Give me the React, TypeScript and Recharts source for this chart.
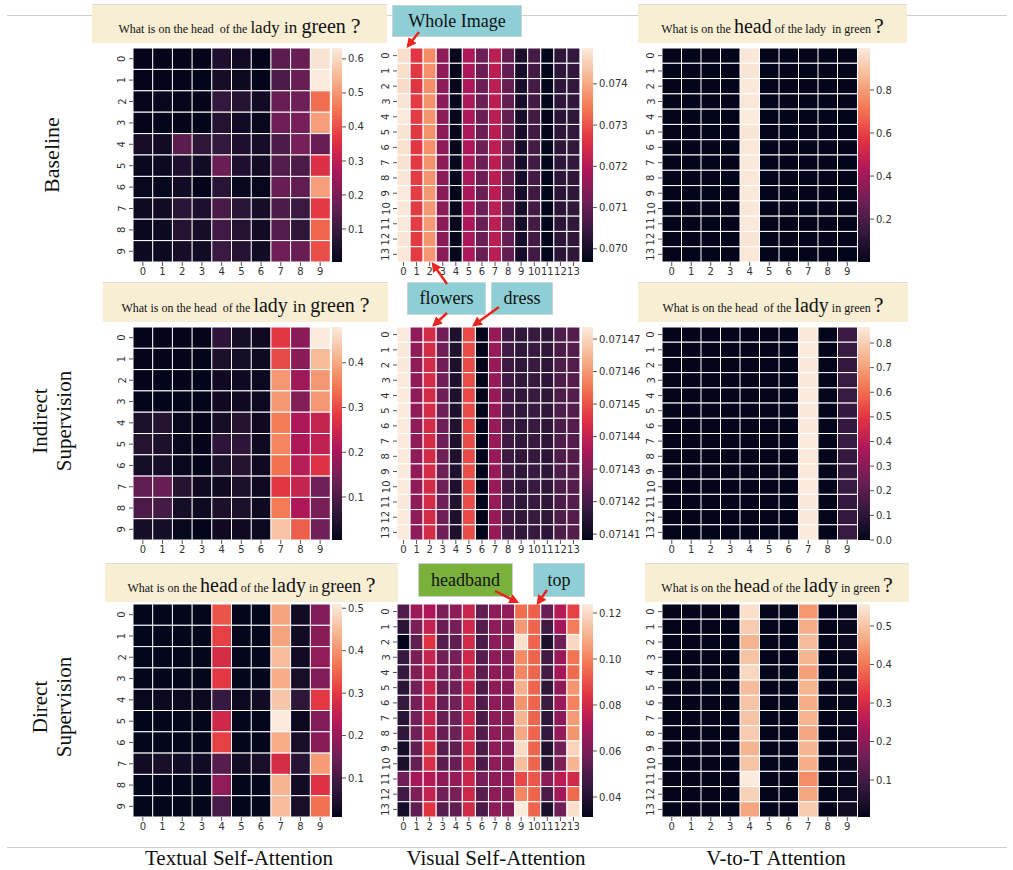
import React from 'react';
import { BarChart, Bar, XAxis, YAxis, Cell } from 'recharts';

// ---------- tick labels ----------
const TEXT_TOKENS = ['0', '1', '2', '3', '4', '5', '6', '7', '8', '9'];
const IMAGE_REGIONS = ['0', '1', '2', '3', '4', '5', '6', '7', '8', '9', '10', '11', '12', '13'];

// ---------- Baseline ----------
const textBaseline = [
  [0.004, 0.004, 0.004, 0.004, 0.05, 0.03, 0.005, 0.15, 0.17, 0.62],
  [0.004, 0.005, 0.004, 0.003, 0.04, 0.02, 0.005, 0.13, 0.17, 0.632],
  [0.006, 0.01, 0.006, 0.004, 0.09, 0.06, 0.03, 0.17, 0.18, 0.44],
  [0.005, 0.006, 0.005, 0.003, 0.06, 0.03, 0.012, 0.18, 0.19, 0.51],
  [0.04, 0.03, 0.15, 0.08, 0.09, 0.05, 0.04, 0.13, 0.19, 0.17],
  [0.015, 0.02, 0.05, 0.03, 0.17, 0.05, 0.03, 0.14, 0.13, 0.35],
  [0.01, 0.01, 0.03, 0.005, 0.07, 0.015, 0.008, 0.17, 0.16, 0.51],
  [0.025, 0.03, 0.07, 0.05, 0.12, 0.07, 0.04, 0.13, 0.1, 0.37],
  [0.015, 0.02, 0.06, 0.04, 0.11, 0.06, 0.03, 0.14, 0.08, 0.43],
  [0.02, 0.02, 0.04, 0.03, 0.1, 0.06, 0.03, 0.18, 0.17, 0.4],
];

const visualBaseline = [
  [0.0747, 0.07268, 0.07365, 0.07152, 0.06976, 0.07192, 0.07112, 0.07212, 0.07102, 0.07002, 0.07062, 0.0697, 0.07032, 0.07038],
  [0.07472, 0.0727, 0.0737, 0.0715, 0.06973, 0.0719, 0.0711, 0.0721, 0.071, 0.07, 0.0706, 0.06969, 0.0703, 0.07036],
  [0.07466, 0.07266, 0.07368, 0.07151, 0.06975, 0.07191, 0.07111, 0.07211, 0.07101, 0.07001, 0.07061, 0.0697, 0.07031, 0.07037],
  [0.07478, 0.07272, 0.07373, 0.07149, 0.06974, 0.07189, 0.07109, 0.07209, 0.07099, 0.06999, 0.07059, 0.06968, 0.07029, 0.07035],
  [0.07485, 0.07274, 0.07376, 0.07148, 0.06972, 0.07188, 0.07108, 0.07208, 0.07098, 0.06998, 0.07058, 0.06968, 0.07028, 0.07034],
  [0.07476, 0.0727, 0.07372, 0.0715, 0.06974, 0.0719, 0.0711, 0.0721, 0.071, 0.07, 0.0706, 0.06969, 0.0703, 0.07036],
  [0.07473, 0.07269, 0.07371, 0.07151, 0.06975, 0.07191, 0.07111, 0.07211, 0.07101, 0.07001, 0.07061, 0.0697, 0.07031, 0.07037],
  [0.07474, 0.0727, 0.07372, 0.0715, 0.06974, 0.0719, 0.0711, 0.0721, 0.071, 0.07, 0.0706, 0.06969, 0.0703, 0.07036],
  [0.0748, 0.07272, 0.07375, 0.07149, 0.06973, 0.07189, 0.07109, 0.07209, 0.07099, 0.06999, 0.07059, 0.06968, 0.07029, 0.07035],
  [0.07487, 0.07275, 0.0738, 0.07147, 0.0697, 0.07187, 0.07107, 0.07207, 0.07097, 0.06997, 0.07057, 0.06968, 0.07027, 0.07033],
  [0.07482, 0.07273, 0.07378, 0.07148, 0.06972, 0.07188, 0.07108, 0.07208, 0.07098, 0.06998, 0.07058, 0.06968, 0.07028, 0.07034],
  [0.07484, 0.07274, 0.07379, 0.07148, 0.06971, 0.07188, 0.07108, 0.07208, 0.07098, 0.06998, 0.07058, 0.06968, 0.07028, 0.07034],
  [0.07479, 0.07271, 0.07376, 0.07149, 0.06973, 0.07189, 0.07109, 0.07209, 0.07099, 0.06999, 0.07059, 0.06968, 0.07029, 0.07035],
  [0.07481, 0.07272, 0.07378, 0.07148, 0.06972, 0.07188, 0.07108, 0.07208, 0.07098, 0.06998, 0.07058, 0.06968, 0.07028, 0.07034],
];

const v2tBaseline = [
  [0.002, 0.001, 0.002, 0.001, 0.985, 0.002, 0.001, 0.002, 0.001, 0.002],
  [0.001, 0.002, 0.001, 0.002, 0.98, 0.001, 0.002, 0.001, 0.002, 0.001],
  [0.002, 0.001, 0.002, 0.001, 0.99, 0.002, 0.001, 0.002, 0.001, 0.002],
  [0.001, 0.001, 0.002, 0.002, 0.985, 0.001, 0.002, 0.001, 0.001, 0.002],
  [0.0005, 0.001, 0.001, 0.001, 0.995, 0.001, 0.001, 0.001, 0.001, 0.001],
  [0.002, 0.002, 0.001, 0.002, 0.98, 0.002, 0.001, 0.002, 0.002, 0.001],
  [0.001, 0.002, 0.002, 0.001, 0.985, 0.001, 0.002, 0.001, 0.002, 0.002],
  [0.002, 0.001, 0.001, 0.002, 0.99, 0.002, 0.001, 0.002, 0.001, 0.001],
  [0.001, 0.002, 0.002, 0.001, 0.985, 0.001, 0.002, 0.001, 0.002, 0.002],
  [0.002, 0.001, 0.001, 0.002, 0.99, 0.002, 0.001, 0.002, 0.001, 0.001],
  [0.001, 0.002, 0.002, 0.001, 0.985, 0.001, 0.002, 0.001, 0.002, 0.002],
  [0.002, 0.001, 0.001, 0.002, 0.99, 0.002, 0.001, 0.002, 0.001, 0.001],
  [0.001, 0.002, 0.002, 0.001, 0.98, 0.001, 0.002, 0.001, 0.002, 0.002],
  [0.002, 0.001, 0.001, 0.002, 0.985, 0.002, 0.001, 0.002, 0.001, 0.001],
];

// ---------- Indirect supervision ----------
const textIndirect = [
  [0.005, 0.005, 0.005, 0.005, 0.06, 0.03, 0.02, 0.28, 0.17, 0.48],
  [0.005, 0.005, 0.005, 0.005, 0.04, 0.03, 0.02, 0.3, 0.17, 0.42],
  [0.005, 0.004, 0.005, 0.004, 0.02, 0.02, 0.015, 0.38, 0.19, 0.38],
  [0.004, 0.004, 0.004, 0.004, 0.02, 0.02, 0.015, 0.38, 0.16, 0.38],
  [0.04, 0.05, 0.01, 0.005, 0.03, 0.05, 0.02, 0.35, 0.21, 0.24],
  [0.05, 0.04, 0.01, 0.005, 0.06, 0.06, 0.02, 0.36, 0.21, 0.23],
  [0.03, 0.03, 0.01, 0.005, 0.04, 0.05, 0.02, 0.34, 0.22, 0.27],
  [0.12, 0.13, 0.05, 0.02, 0.02, 0.04, 0.02, 0.28, 0.24, 0.14],
  [0.1, 0.09, 0.03, 0.02, 0.04, 0.04, 0.02, 0.35, 0.21, 0.15],
  [0.03, 0.03, 0.01, 0.005, 0.02, 0.02, 0.015, 0.43, 0.32, 0.14],
];

const visualIndirect = [
  [0.0714735, 0.0714318, 0.071443, 0.0714265, 0.0714135, 0.071449, 0.0714083, 0.071433, 0.071419, 0.0714165, 0.071418, 0.071416, 0.0714215, 0.0714225],
  [0.0714733, 0.0714317, 0.0714431, 0.0714264, 0.0714136, 0.0714491, 0.0714082, 0.0714331, 0.0714191, 0.0714164, 0.0714181, 0.0714161, 0.0714214, 0.0714226],
  [0.0714734, 0.0714318, 0.071443, 0.0714265, 0.0714135, 0.071449, 0.0714083, 0.071433, 0.071419, 0.0714165, 0.071418, 0.071416, 0.0714215, 0.0714225],
  [0.0714736, 0.0714319, 0.0714432, 0.0714266, 0.0714134, 0.0714492, 0.0714082, 0.0714332, 0.0714189, 0.0714166, 0.0714179, 0.0714159, 0.0714216, 0.0714224],
  [0.0714735, 0.0714318, 0.071443, 0.0714265, 0.0714135, 0.071449, 0.0714083, 0.071433, 0.071419, 0.0714165, 0.071418, 0.071416, 0.0714215, 0.0714225],
  [0.0714737, 0.0714318, 0.0714431, 0.0714265, 0.0714135, 0.0714491, 0.0714082, 0.0714331, 0.071419, 0.0714165, 0.071418, 0.071416, 0.0714215, 0.0714225],
  [0.0714735, 0.0714317, 0.071443, 0.0714264, 0.0714136, 0.071449, 0.0714083, 0.071433, 0.0714191, 0.0714164, 0.0714181, 0.0714161, 0.0714214, 0.0714226],
  [0.0714736, 0.0714318, 0.0714431, 0.0714265, 0.0714135, 0.0714491, 0.0714082, 0.0714331, 0.071419, 0.0714165, 0.071418, 0.071416, 0.0714215, 0.0714225],
  [0.0714735, 0.0714319, 0.071443, 0.0714266, 0.0714134, 0.071449, 0.0714083, 0.071433, 0.0714189, 0.0714166, 0.0714179, 0.0714159, 0.0714216, 0.0714224],
  [0.0714736, 0.0714318, 0.0714432, 0.0714265, 0.0714135, 0.0714492, 0.0714082, 0.0714332, 0.071419, 0.0714165, 0.071418, 0.071416, 0.0714215, 0.0714225],
  [0.0714735, 0.0714318, 0.071443, 0.0714265, 0.0714135, 0.071449, 0.0714083, 0.071433, 0.071419, 0.0714165, 0.071418, 0.071416, 0.0714215, 0.0714225],
  [0.0714734, 0.0714317, 0.0714431, 0.0714264, 0.0714136, 0.0714491, 0.0714082, 0.0714331, 0.0714191, 0.0714164, 0.0714181, 0.0714161, 0.0714214, 0.0714226],
  [0.0714735, 0.0714318, 0.071443, 0.0714265, 0.0714135, 0.071449, 0.0714083, 0.071433, 0.071419, 0.0714165, 0.071418, 0.071416, 0.0714215, 0.0714225],
  [0.0714736, 0.0714319, 0.0714431, 0.0714266, 0.0714134, 0.0714491, 0.0714082, 0.0714331, 0.0714189, 0.0714166, 0.0714179, 0.0714159, 0.0714216, 0.0714224],
];

const v2tIndirect = [
  [0.003, 0.002, 0.003, 0.002, 0.003, 0.002, 0.003, 0.86, 0.004, 0.14],
  [0.002, 0.003, 0.002, 0.003, 0.002, 0.003, 0.002, 0.865, 0.003, 0.13],
  [0.003, 0.002, 0.003, 0.002, 0.003, 0.002, 0.003, 0.86, 0.004, 0.12],
  [0.002, 0.003, 0.002, 0.003, 0.002, 0.003, 0.002, 0.86, 0.003, 0.13],
  [0.003, 0.002, 0.003, 0.002, 0.003, 0.002, 0.003, 0.865, 0.004, 0.13],
  [0.0, 0.003, 0.002, 0.003, 0.002, 0.003, 0.002, 0.86, 0.003, 0.12],
  [0.003, 0.002, 0.003, 0.002, 0.003, 0.002, 0.003, 0.86, 0.004, 0.12],
  [0.002, 0.003, 0.002, 0.003, 0.002, 0.003, 0.002, 0.865, 0.003, 0.13],
  [0.003, 0.002, 0.003, 0.002, 0.003, 0.002, 0.003, 0.86, 0.004, 0.12],
  [0.002, 0.003, 0.002, 0.003, 0.002, 0.003, 0.002, 0.86, 0.003, 0.12],
  [0.003, 0.002, 0.003, 0.002, 0.003, 0.002, 0.003, 0.865, 0.004, 0.13],
  [0.002, 0.003, 0.002, 0.003, 0.002, 0.003, 0.002, 0.86, 0.003, 0.12],
  [0.003, 0.002, 0.003, 0.002, 0.003, 0.002, 0.003, 0.86, 0.004, 0.12],
  [0.002, 0.003, 0.002, 0.003, 0.002, 0.003, 0.002, 0.865, 0.003, 0.13],
];

// ---------- Direct supervision ----------
const textDirect = [
  [0.01, 0.01, 0.01, 0.01, 0.33, 0.01, 0.01, 0.42, 0.03, 0.17],
  [0.01, 0.01, 0.01, 0.01, 0.31, 0.01, 0.01, 0.42, 0.03, 0.18],
  [0.01, 0.01, 0.01, 0.01, 0.28, 0.01, 0.01, 0.45, 0.03, 0.19],
  [0.01, 0.01, 0.01, 0.01, 0.3, 0.01, 0.01, 0.43, 0.04, 0.17],
  [0.015, 0.02, 0.02, 0.02, 0.08, 0.02, 0.03, 0.46, 0.07, 0.3],
  [0.008, 0.01, 0.01, 0.01, 0.27, 0.01, 0.01, 0.51, 0.02, 0.17],
  [0.01, 0.01, 0.01, 0.01, 0.31, 0.01, 0.01, 0.43, 0.04, 0.18],
  [0.03, 0.04, 0.03, 0.03, 0.12, 0.03, 0.04, 0.28, 0.06, 0.41],
  [0.01, 0.01, 0.01, 0.01, 0.19, 0.01, 0.01, 0.44, 0.03, 0.29],
  [0.01, 0.01, 0.01, 0.01, 0.1, 0.01, 0.01, 0.45, 0.04, 0.36],
];

const visualDirect = [
  [0.051, 0.067, 0.071, 0.06, 0.064, 0.078, 0.054, 0.064, 0.065, 0.096, 0.093, 0.056, 0.073, 0.087],
  [0.042, 0.06, 0.076, 0.056, 0.059, 0.079, 0.052, 0.064, 0.063, 0.105, 0.094, 0.047, 0.069, 0.099],
  [0.0313, 0.054, 0.084, 0.052, 0.054, 0.08, 0.049, 0.064, 0.063, 0.121, 0.094, 0.038, 0.057, 0.119],
  [0.045, 0.06, 0.077, 0.057, 0.059, 0.079, 0.052, 0.064, 0.062, 0.102, 0.094, 0.047, 0.067, 0.097],
  [0.045, 0.061, 0.075, 0.058, 0.06, 0.079, 0.053, 0.064, 0.063, 0.101, 0.094, 0.048, 0.069, 0.095],
  [0.042, 0.058, 0.078, 0.055, 0.057, 0.079, 0.05, 0.064, 0.063, 0.11, 0.094, 0.043, 0.064, 0.104],
  [0.045, 0.059, 0.077, 0.056, 0.058, 0.079, 0.051, 0.064, 0.063, 0.104, 0.094, 0.046, 0.067, 0.1],
  [0.041, 0.058, 0.078, 0.055, 0.057, 0.079, 0.05, 0.064, 0.063, 0.111, 0.094, 0.043, 0.064, 0.105],
  [0.043, 0.058, 0.078, 0.056, 0.057, 0.079, 0.051, 0.064, 0.063, 0.108, 0.094, 0.044, 0.066, 0.104],
  [0.036, 0.054, 0.083, 0.052, 0.054, 0.08, 0.049, 0.064, 0.062, 0.12, 0.094, 0.039, 0.058, 0.118],
  [0.038, 0.055, 0.082, 0.053, 0.056, 0.08, 0.05, 0.064, 0.063, 0.113, 0.094, 0.041, 0.061, 0.111],
  [0.057, 0.069, 0.072, 0.064, 0.066, 0.078, 0.059, 0.064, 0.065, 0.089, 0.091, 0.064, 0.074, 0.08],
  [0.047, 0.061, 0.076, 0.058, 0.06, 0.079, 0.053, 0.064, 0.063, 0.101, 0.094, 0.05, 0.069, 0.095],
  [0.036, 0.054, 0.084, 0.052, 0.054, 0.08, 0.049, 0.064, 0.062, 0.1239, 0.094, 0.038, 0.057, 0.121],
];

const v2tDirect = [
  [0.005, 0.004, 0.005, 0.005, 0.54, 0.005, 0.006, 0.44, 0.006, 0.012],
  [0.004, 0.005, 0.005, 0.004, 0.51, 0.006, 0.005, 0.47, 0.005, 0.014],
  [0.005, 0.005, 0.004, 0.005, 0.48, 0.005, 0.006, 0.49, 0.006, 0.016],
  [0.005, 0.004, 0.005, 0.005, 0.5, 0.005, 0.005, 0.48, 0.005, 0.013],
  [0.004, 0.005, 0.005, 0.004, 0.53, 0.006, 0.006, 0.45, 0.006, 0.012],
  [0.005, 0.005, 0.004, 0.005, 0.49, 0.005, 0.005, 0.48, 0.005, 0.015],
  [0.005, 0.004, 0.005, 0.005, 0.5, 0.005, 0.006, 0.47, 0.006, 0.014],
  [0.004, 0.005, 0.005, 0.004, 0.5, 0.006, 0.005, 0.48, 0.005, 0.015],
  [0.005, 0.005, 0.004, 0.005, 0.51, 0.005, 0.006, 0.46, 0.006, 0.013],
  [0.005, 0.004, 0.005, 0.005, 0.48, 0.005, 0.005, 0.48, 0.005, 0.018],
  [0.004, 0.005, 0.005, 0.004, 0.5, 0.006, 0.006, 0.47, 0.006, 0.014],
  [0.005, 0.005, 0.004, 0.005, 0.557, 0.005, 0.005, 0.43, 0.005, 0.013],
  [0.005, 0.004, 0.005, 0.005, 0.52, 0.005, 0.006, 0.46, 0.006, 0.016],
  [0.004, 0.005, 0.005, 0.004, 0.46, 0.006, 0.005, 0.51, 0.005, 0.025],
];

// ---------- colorbar ticks ----------
const CB_TEXT_BASE = [0.1, 0.2, 0.3, 0.4, 0.5, 0.6];
const CB_VIS_BASE = [0.07, 0.071, 0.072, 0.073, 0.074];
const CB_V2T_BASE = [0.2, 0.4, 0.6, 0.8];
const CB_TEXT_IND = [0.1, 0.2, 0.3, 0.4];
const CB_VIS_IND = [0.07141, 0.07142, 0.07143, 0.07144, 0.07145, 0.07146, 0.07147];
const CB_V2T_IND = [0.0, 0.1, 0.2, 0.3, 0.4, 0.5, 0.6, 0.7, 0.8];
const CB_TEXT_DIR = [0.1, 0.2, 0.3, 0.4, 0.5];
const CB_VIS_DIR = [0.04, 0.06, 0.08, 0.1, 0.12];
const CB_V2T_DIR = [0.1, 0.2, 0.3, 0.4, 0.5];

// ---------- labels ----------
const COLUMN_TITLES = ['Textual Self-Attention', 'Visual Self-Attention', 'V-to-T Attention'];
const ROW_TITLES = [['Baseline'], ['Indirect', 'Supervision'], ['Direct', 'Supervision']];

type Seg = [string, number];
const Q_T1: Seg[] = [['What is on the head  of the ', 12], ['lady ', 17], ['in ', 17], ['green ', 20], ['?', 22]];
const Q_A1: Seg[] = [['What is on the ', 12], ['head', 20], [' of the lady  in green ', 12], ['?', 22]];
const Q_T2: Seg[] = [['What is on the head  of the ', 12], ['lady ', 20], ['in ', 17], ['green ', 20], ['?', 22]];
const Q_A2: Seg[] = [['What is on the head  of the ', 12], ['lady', 20], [' in green ', 12], ['?', 22]];
const Q_T3: Seg[] = [['What is on the ', 12], ['head', 20], [' of the ', 12], ['lady', 20], [' in ', 12], ['green ', 18], ['?', 22]];
const Q_A3: Seg[] = [['What is on the ', 12], ['head', 19], [' of the ', 12], ['lady', 20], [' in green ', 12], ['?', 22]];

// ---------- colormap (seaborn "rocket") ----------
const ROCKET: Array<[number, string]> = [
  [0, '#03051a'], [0.143, '#35193e'], [0.286, '#701f57'], [0.429, '#ad1759'],
  [0.571, '#e13342'], [0.714, '#f37651'], [0.857, '#f6b48f'], [1, '#faebdd'],
];
const hexRgb = (h: string) => [1, 3, 5].map((i) => parseInt(h.slice(i, i + 2), 16));
function rocket(t: number): string {
  const u = Math.max(0, Math.min(1, t));
  for (let i = 1; i < ROCKET.length; i++) {
    if (u <= ROCKET[i][0]) {
      const [t0, c0] = ROCKET[i - 1];
      const [t1, c1] = ROCKET[i];
      const f = (u - t0) / (t1 - t0);
      const a = hexRgb(c0);
      const b = hexRgb(c1);
      return `rgb(${a.map((v, k) => Math.round(v + (b[k] - v) * f)).join(',')})`;
    }
  }
  return ROCKET[ROCKET.length - 1][1];
}

// ---------- layout ----------
const COLS = [
  { x: 133, w: 197, cbX: 332, cbW: 10 },
  { x: 397, w: 183, cbX: 582, cbW: 11 },
  { x: 662, w: 195, cbX: 858, cbW: 12 },
];
const ROWS = [
  { y: 48, h: 214 },
  { y: 327, h: 213 },
  { y: 604, h: 213 },
];
const YW = 24;
const XH = 22;
const MT = 2;
const MR = 2;
const CB_PAD = 9;
const TICK_FONT = { fontSize: 10, fill: '#333', fontFamily: '"DejaVu Sans", sans-serif' };
const SERIF = '"Liberation Serif", "Times New Roman", serif';

const RotTick = (props: any) => {
  const { x, y, payload, labels } = props;
  const label = labels[Math.floor(payload.value)];
  const cx = x - 5;
  return (
    <text x={cx} y={y} transform={`rotate(-90, ${cx}, ${y})`} textAnchor="middle" dominantBaseline="central" {...TICK_FONT}>
      {label}
    </text>
  );
};

interface HeatProps {
  id: string;
  matrix: number[][];
  xLabels: string[];
  yLabels: string[];
  col: number;
  row: number;
  ticks: number[];
  digits: number;
}

function Heatmap({ id, matrix, xLabels, yLabels, col, row, ticks, digits }: HeatProps) {
  const { x, w, cbX, cbW } = COLS[col];
  const { y, h } = ROWS[row];
  const nRows = matrix.length;
  const flat = matrix.flat();
  const min = Math.min(...flat);
  const max = Math.max(...flat);
  const data = xLabels.map((name) => {
    const o: Record<string, any> = { name };
    yLabels.forEach((_, ri) => {
      o['r' + ri] = 1;
    });
    return o;
  });
  const yTicks = yLabels.map((_, i) => i + 0.5);
  const CBR = 50;
  return (
    <>
      <div style={{ position: 'absolute', left: x - YW, top: y - MT }}>
        <BarChart
          width={YW + w + MR}
          height={MT + h + XH}
          data={data}
          margin={{ top: MT, right: MR, left: 0, bottom: 0 }}
          barCategoryGap={0}
          barGap={0}
        >
          <XAxis dataKey="name" interval={0} axisLine={false} tickSize={4} tickLine={{ stroke: '#555' }} height={XH} tick={TICK_FONT} />
          <YAxis
            type="number"
            domain={[0, nRows]}
            reversed
            ticks={yTicks}
            interval={0}
            width={YW}
            axisLine={false}
            tickSize={4}
            tickLine={{ stroke: '#555' }}
            tick={(p: any) => <RotTick {...p} labels={yLabels} />}
          />
          {matrix.map((r, ri) => (
            <Bar key={ri} dataKey={'r' + ri} stackId="s" isAnimationActive={false} stroke="#ffffff" strokeWidth={1}>
              {r.map((v, ci) => (
                <Cell key={ci} fill={rocket((v - min) / (max - min))} />
              ))}
            </Bar>
          ))}
        </BarChart>
      </div>
      <div style={{ position: 'absolute', left: cbX, top: y - CB_PAD }}>
        <BarChart
          width={cbW + CBR}
          height={h + 2 * CB_PAD}
          data={[{ name: 'cb', range: [min, max] }]}
          margin={{ top: CB_PAD, right: 0, left: 0, bottom: CB_PAD }}
          barCategoryGap={0}
        >
          <defs>
            <linearGradient id={`grad-${id}`} x1="0" y1="1" x2="0" y2="0">
              {ROCKET.map(([t, c]) => (
                <stop key={t} offset={t} stopColor={c} />
              ))}
            </linearGradient>
          </defs>
          <XAxis dataKey="name" hide />
          <YAxis
            orientation="right"
            type="number"
            domain={[min, max]}
            ticks={ticks}
            interval={0}
            width={CBR}
            axisLine={false}
            tickSize={4}
            tickLine={{ stroke: '#555' }}
            tick={TICK_FONT}
            tickFormatter={(v: number) => v.toFixed(digits)}
          />
          <Bar dataKey="range" fill={`url(#grad-${id})`} isAnimationActive={false} />
        </BarChart>
      </div>
    </>
  );
}

const PANELS: HeatProps[] = [
  { id: 't1', matrix: textBaseline, xLabels: TEXT_TOKENS, yLabels: TEXT_TOKENS, col: 0, row: 0, ticks: CB_TEXT_BASE, digits: 1 },
  { id: 'v1', matrix: visualBaseline, xLabels: IMAGE_REGIONS, yLabels: IMAGE_REGIONS, col: 1, row: 0, ticks: CB_VIS_BASE, digits: 3 },
  { id: 'a1', matrix: v2tBaseline, xLabels: TEXT_TOKENS, yLabels: IMAGE_REGIONS, col: 2, row: 0, ticks: CB_V2T_BASE, digits: 1 },
  { id: 't2', matrix: textIndirect, xLabels: TEXT_TOKENS, yLabels: TEXT_TOKENS, col: 0, row: 1, ticks: CB_TEXT_IND, digits: 1 },
  { id: 'v2', matrix: visualIndirect, xLabels: IMAGE_REGIONS, yLabels: IMAGE_REGIONS, col: 1, row: 1, ticks: CB_VIS_IND, digits: 5 },
  { id: 'a2', matrix: v2tIndirect, xLabels: TEXT_TOKENS, yLabels: IMAGE_REGIONS, col: 2, row: 1, ticks: CB_V2T_IND, digits: 1 },
  { id: 't3', matrix: textDirect, xLabels: TEXT_TOKENS, yLabels: TEXT_TOKENS, col: 0, row: 2, ticks: CB_TEXT_DIR, digits: 1 },
  { id: 'v3', matrix: visualDirect, xLabels: IMAGE_REGIONS, yLabels: IMAGE_REGIONS, col: 1, row: 2, ticks: CB_VIS_DIR, digits: 2 },
  { id: 'a3', matrix: v2tDirect, xLabels: TEXT_TOKENS, yLabels: IMAGE_REGIONS, col: 2, row: 2, ticks: CB_V2T_DIR, digits: 1 },
];

const BEIGE = '#f8eed4';
const TEAL = '#8ecfd6';
const GREEN = '#79b13c';

const QUESTION_BOXES: Array<{ segs: Seg[]; box: [number, number, number, number] }> = [
  { segs: Q_T1, box: [92, 4, 387, 43] },
  { segs: Q_A1, box: [638, 4, 907, 43] },
  { segs: Q_T2, box: [103, 282, 388, 322] },
  { segs: Q_A2, box: [638, 282, 908, 322] },
  { segs: Q_T3, box: [105, 563, 398, 602] },
  { segs: Q_A3, box: [645, 563, 909, 602] },
];

const TAG_BOXES: Array<{ text: string; box: [number, number, number, number]; color: string }> = [
  { text: 'Whole Image', box: [392, 5, 522, 37], color: TEAL },
  { text: 'flowers', box: [407, 282, 486, 315], color: TEAL },
  { text: 'dress', box: [491, 282, 553, 315], color: TEAL },
  { text: 'headband', box: [418, 563, 513, 597], color: GREEN },
  { text: 'top', box: [533, 563, 585, 597], color: TEAL },
];

const ARROWS: Array<[number, number, number, number]> = [
  [419, 32, 408, 46],
  [447, 284, 433, 264],
  [447, 313, 434, 325],
  [499, 307, 474, 325],
  [495, 591, 517, 602],
  [547, 590, 538, 603],
];

export default function App() {
  return (
    <div style={{ position: 'absolute', left: 0, top: 0, width: 1013, height: 870, background: '#fff', overflow: 'hidden', fontFamily: SERIF }}>
      <div style={{ position: 'absolute', left: 7, top: 15, width: 1000, height: 1, background: '#cfcfcf' }} />
      <div style={{ position: 'absolute', left: 7, top: 847, width: 1000, height: 1, background: '#cfcfcf' }} />

      {QUESTION_BOXES.map(({ segs, box }, i) => (
        <div
          key={i}
          style={{
            position: 'absolute', left: box[0], top: box[1], width: box[2] - box[0], height: box[3] - box[1],
            background: BEIGE, borderTop: '1px solid #dcdcdc', boxSizing: 'border-box',
            display: 'flex', alignItems: 'center', justifyContent: 'center', color: '#111', whiteSpace: 'pre',
          }}
        >
          <span style={{ lineHeight: 1, paddingTop: 4 }}>
            {segs.map(([t, s], k) => (
              <span key={k} style={{ fontSize: s }}>{t}</span>
            ))}
          </span>
        </div>
      ))}

      {TAG_BOXES.map(({ text, box, color }, i) => (
        <div
          key={i}
          style={{
            position: 'absolute', left: box[0], top: box[1], width: box[2] - box[0], height: box[3] - box[1], boxSizing: 'border-box',
            background: color, border: '1px solid #c8d4d6', display: 'flex', alignItems: 'center', justifyContent: 'center',
            fontSize: 18, color: '#111',
          }}
        >
          {text}
        </div>
      ))}

      {PANELS.map((p) => (
        <Heatmap key={p.id} {...p} />
      ))}

      {ROW_TITLES.map((lines, i) => {
        const cy = [155, 421, 707][i];
        return (
          <div
            key={i}
            style={{
              position: 'absolute', left: 52, top: cy, transform: 'translate(-50%, -50%) rotate(-90deg)',
              whiteSpace: 'nowrap', textAlign: 'center', fontSize: i === 0 ? 22 : 21, lineHeight: '24px', color: '#111',
            }}
          >
            {lines.map((l, k) => (
              <div key={k}>{l}</div>
            ))}
          </div>
        );
      })}

      {COLUMN_TITLES.map((t, i) => (
        <div
          key={i}
          style={{
            position: 'absolute', left: [239, 496, 776][i], top: 858, transform: 'translate(-50%, -50%)',
            whiteSpace: 'nowrap', fontSize: 21, color: '#111',
          }}
        >
          {t}
        </div>
      ))}

      <svg width={1013} height={870} style={{ position: 'absolute', left: 0, top: 0, pointerEvents: 'none' }}>
        <defs>
          <marker id="arrowhead" markerWidth="4" markerHeight="4" refX="3" refY="2" orient="auto" markerUnits="strokeWidth">
            <path d="M0,0 L4,2 L0,4 Z" fill="#e8261f" />
          </marker>
        </defs>
        {ARROWS.map(([x1, y1, x2, y2], i) => (
          <line key={i} x1={x1} y1={y1} x2={x2} y2={y2} stroke="#e8261f" strokeWidth={2.5} markerEnd="url(#arrowhead)" />
        ))}
      </svg>
    </div>
  );
}
